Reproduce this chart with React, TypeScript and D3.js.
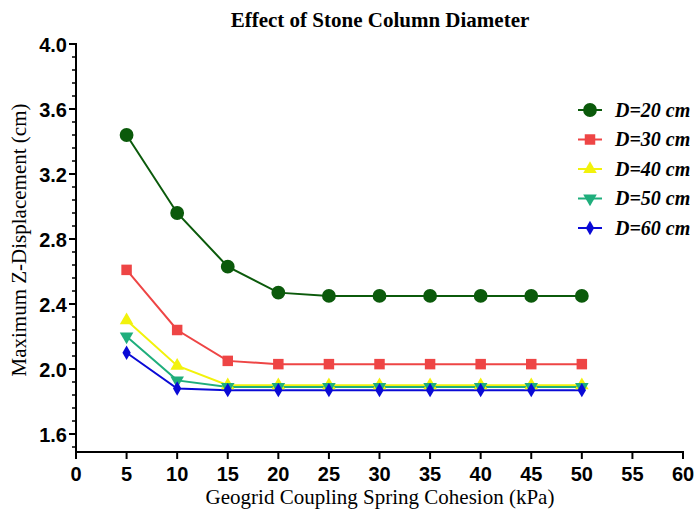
import React from 'react';
import * as d3 from 'd3';

interface Series {
  label: string;
  color: string;
  symbol: d3.SymbolType;
  size: number;
  values: number[];
}

const cohesion = [5, 10, 15, 20, 25, 30, 35, 40, 45, 50];

const d20 = [3.44, 2.96, 2.63, 2.47, 2.45, 2.45, 2.45, 2.45, 2.45, 2.45];
const d30 = [2.61, 2.24, 2.05, 2.03, 2.03, 2.03, 2.03, 2.03, 2.03, 2.03];
const d40 = [2.3, 2.02, 1.9, 1.9, 1.9, 1.9, 1.9, 1.9, 1.9, 1.9];
const d50 = [2.2, 1.93, 1.89, 1.89, 1.89, 1.89, 1.89, 1.89, 1.89, 1.89];
const d60 = [2.1, 1.88, 1.87, 1.87, 1.87, 1.87, 1.87, 1.87, 1.87, 1.87];

const xTicks = [0, 5, 10, 15, 20, 25, 30, 35, 40, 45, 50, 55, 60];
const yTicks = [1.6, 2.0, 2.4, 2.8, 3.2, 3.6, 4.0];

const series: Series[] = [
  { label: 'D=20 cm', color: '#0b5a0b', symbol: d3.symbolCircle, size: 150, values: d20 },
  { label: 'D=30 cm', color: '#ee4545', symbol: d3.symbolSquare, size: 110, values: d30 },
  { label: 'D=40 cm', color: '#f2f20c', symbol: d3.symbolTriangle, size: 80, values: d40 },
  { label: 'D=50 cm', color: '#1fae7c', symbol: d3.symbolTriangle, size: 80, values: d50 },
  { label: 'D=60 cm', color: '#0a0ad6', symbol: d3.symbolDiamond, size: 60, values: d60 },
];

const App = () => {
  const width = 697;
  const height = 513;
  const left = 76;
  const right = 683;
  const top = 44;
  const bottom = 452;

  const x = d3.scaleLinear().domain([0, 60]).range([left, right]);
  // 4.0 oben, 1.6 bei 434
  const y = d3.scaleLinear().domain([1.6, 4.0]).range([434, top]);
  const yMin = y.invert(bottom);

  const line = d3
    .line<number>()
    .x((_, i) => x(cohesion[i]))
    .y((d) => y(d));

  const minor = d3.range(1.52, 4.0001, 0.08).filter((v) => v >= yMin);

  const tickFont = 'Liberation Sans, Arial, sans-serif';
  const serif = 'Liberation Serif, DejaVu Serif, serif';

  return (
    <svg
      width={width}
      height={height}
      style={{ position: 'absolute', left: 0, top: 0, background: '#fff' }}
    >
      {/* Titel */}
      <text x={380} y={27} textAnchor="middle" fontFamily={serif} fontWeight="bold" fontSize={21}>
        Effect of Stone Column Diameter
      </text>

      {/* Y-Achse */}
      <line x1={left} x2={left} y1={top - 1} y2={bottom + 1} stroke="#000" strokeWidth={2} />
      {minor.map((v, i) => (
        <line key={'m' + i} x1={left - 4} x2={left} y1={y(v)} y2={y(v)} stroke="#000" strokeWidth={1.5} />
      ))}
      {yTicks.map((v) => (
        <g key={'y' + v}>
          <line x1={left - 7} x2={left} y1={y(v)} y2={y(v)} stroke="#000" strokeWidth={2} />
          <text
            x={left - 9}
            y={y(v) + 7.5}
            textAnchor="end"
            fontFamily={tickFont}
            fontWeight="bold"
            fontSize={20}
          >
            {v.toFixed(1)}
          </text>
        </g>
      ))}

      {/* X-Achse */}
      <line x1={left - 1} x2={right + 1} y1={bottom} y2={bottom} stroke="#000" strokeWidth={2} />
      {xTicks.map((v) => (
        <g key={'x' + v}>
          <line x1={x(v)} x2={x(v)} y1={bottom} y2={bottom + 7} stroke="#000" strokeWidth={2} />
          <text
            x={x(v)}
            y={bottom + 29}
            textAnchor="middle"
            fontFamily={tickFont}
            fontWeight="bold"
            fontSize={20}
          >
            {v}
          </text>
        </g>
      ))}

      <text x={380} y={504} textAnchor="middle" fontFamily={serif} fontSize={21}>
        Geogrid Coupling Spring Cohesion (kPa)
      </text>
      <text
        transform={`translate(26, 240) rotate(-90)`}
        textAnchor="middle"
        fontFamily={serif}
        fontSize={21}
      >
        Maximum Z-Displacement (cm)
      </text>

      {/* Linien */}
      {series.map((s) => (
        <path key={s.label} d={line(s.values) || ''} fill="none" stroke={s.color} strokeWidth={2} />
      ))}
      {series.map((s, si) =>
        s.values.map((v, i) => (
          <path
            key={s.label + i}
            d={d3.symbol(s.symbol, s.size)() || ''}
            transform={`translate(${x(cohesion[i])},${y(v)})${si === 3 ? ' rotate(180)' : ''}`}
            fill={s.color}
          />
        ))
      )}

      {/* Legende */}
      {series.map((s, i) => {
        const ly = 110 + i * 29.5;
        return (
          <g key={'l' + s.label}>
            <line x1={578} x2={602} y1={ly} y2={ly} stroke={s.color} strokeWidth={2} />
            <path
              d={d3.symbol(s.symbol, s.size)() || ''}
              transform={`translate(590,${ly})${i === 3 ? ' rotate(180)' : ''}`}
              fill={s.color}
            />
            <text
              x={615}
              y={ly + 6.5}
              fontFamily={serif}
              fontStyle="italic"
              fontWeight="bold"
              fontSize={20}
            >
              {s.label}
            </text>
          </g>
        );
      })}
    </svg>
  );
};

export default App;
